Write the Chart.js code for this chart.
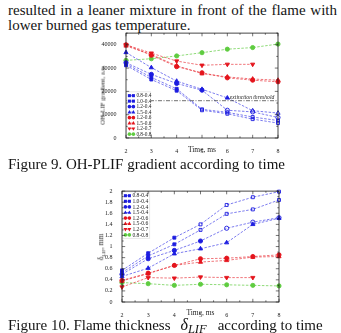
<!DOCTYPE html>
<html><head><meta charset="utf-8">
<script src="https://cdn.jsdelivr.net/npm/chart.js@4.4.0/dist/chart.umd.min.js"></script>
<style>
html,body{margin:0;padding:0;background:#fff;}
body{width:341px;height:333px;overflow:hidden;position:relative;font-family:"Liberation Serif","Times New Roman",serif;color:#141414;}
.t{position:absolute;left:8px;font-size:15px;line-height:17px;white-space:nowrap;}
.l1{width:329px;text-align:justify;text-align-last:justify;white-space:normal;}
canvas{position:absolute;}
#c1{left:90px;top:28px;}
#c2{left:88px;top:186px;}
.yt{position:absolute;white-space:nowrap;line-height:1;transform:translate(-50%,-50%) rotate(-90deg);color:#222;}
.yt sub{font-size:5px;vertical-align:baseline;position:relative;top:1.5px;}
.dl{margin:0 11px 0 10px;font-style:italic;font-size:16px;}
.dl sub{font-size:12.5px;vertical-align:baseline;position:relative;top:3px;}
</style></head>
<body>
<div class="t l1" style="top:1.5px">resulted in a leaner mixture in front of the flame with</div>
<div class="t" style="top:16.5px">lower burned gas temperature.</div>
<canvas id="c1" width="195" height="130"></canvas>
<div class="yt" style="left:103px;top:95px;font-size:6.8px">OH-LIF gradient, a.u.</div>
<div class="t" style="top:156px">Figure 9. OH-PLIF gradient according to time</div>
<canvas id="c2" width="197" height="134"></canvas>
<div class="yt" style="left:101px;top:247px;font-size:7.5px">δ<sub>LIF</sub>, mm</div>
<div class="t" style="top:316px">Figure 10. Flame thickness<span class="dl">δ<sub>LIF</sub></span>according to time</div>
<script>
// ---------- data ----------
const times = [2, 3, 4, 5, 6, 7, 8];
const seriesLabels = ['0.8-0.4', '1.0-0.4', '1.2-0.4', '1.5-0.4', '1.2-0.6', '1.5-0.6', '1.2-0.7', '0.8-0.8'];

// Figure 9: OH-LIF gradient, a.u.
const grad_08_04 = [31200, 25100, 20300, 11900, 10400, 8100, 6400];
const grad_10_04 = [31800, 26000, 21100, 12300, 11000, 9000, 7500];
const grad_12_04 = [32300, 27300, 23400, 20500, 11900, 11200, 8800];
const grad_15_04 = [36700, 30200, 24400, 20900, 17200, 11700, 10700];
const grad_12_06 = [40000, 35500, 30600, 28000, 25800, 24800, 24100];
const grad_15_06 = [39500, 35800, 31000, 27600, 26200, 25300, 24800];
const grad_12_07 = [40000, 36400, 33000, 31200, 31600, 31600, null];
const grad_08_08 = [33300, 34000, 35200, 36600, 38100, 38800, 40300];
const extinctionThreshold = 16000;
const extinctionLabel = 'extinction threshold';
const gradTicks = [0, 10000, 20000, 30000, 40000];

// Figure 10: flame thickness delta_LIF, mm
const thick_08_04 = [0.57, 0.88, 1.16, 1.40, 1.75, 1.89, 1.99];
const thick_10_04 = [0.53, 0.83, 1.04, 1.30, 1.59, 1.67, 1.84];
const thick_12_04 = [0.50, 0.78, 0.93, 1.10, 1.33, 1.44, 1.52];
const thick_15_04 = [0.46, 0.61, 0.87, 0.96, 1.07, 1.40, 1.51];
const thick_12_06 = [0.39, 0.52, 0.66, 0.78, 0.79, 0.82, 0.85];
const thick_15_06 = [0.38, 0.51, 0.66, 0.72, 0.75, 0.81, 0.82];
const thick_12_07 = [0.27, 0.44, 0.43, 0.45, 0.44, 0.44, null];
const thick_08_08 = [0.35, 0.33, 0.30, 0.32, 0.31, 0.30, 0.29];
const thickTicks = [0, 0.2, 0.4, 0.6, 0.8, 1, 1.2, 1.4, 1.6, 1.8, 2];

const timeTicks = [2, 3, 4, 5, 6, 7, 8];

// ---------- styles ----------
const BLUE = '#1c1ce0', RED = '#e4141c', GREEN = '#5fcc40';
const markerColor = [BLUE, BLUE, BLUE, BLUE, RED, RED, RED, GREEN];
const lineColor = ['rgba(50,50,230,0.8)','rgba(50,50,230,0.8)','rgba(50,50,230,0.8)','rgba(50,50,230,0.8)',
  'rgba(232,40,48,0.8)','rgba(232,40,48,0.8)','rgba(232,40,48,0.8)','rgba(100,205,70,0.9)'];
const markerStyle = ['rect', 'rect', 'circle', 'triangle', 'circle', 'triangle', 'triangle', 'circle'];
const markerRot = [0, 0, 0, 0, 0, 0, 180, 0];
const hollow1 = [3, 3, 4, 5, 99, 99, 99, 99];
const hollow2 = [3, 3, 4, 99, 99, 99, 99, 99];

function buildSets(series, hollowFrom) {
  return series.map((vals, i) => ({
    label: seriesLabels[i],
    data: times.map((t, k) => ({x: t, y: vals[k]})),
    borderColor: lineColor[i],
    borderWidth: 0.8,
    borderDash: [2.5, 1.5],
    pointStyle: markerStyle[i],
    pointRotation: markerRot[i],
    pointRadius: markerStyle[i] === 'triangle' ? 2.4 : 2.1,
    pointBorderColor: markerColor[i],
    pointBorderWidth: 0.9,
    pointBackgroundColor: times.map((t, k) => k >= hollowFrom[i] ? 'rgba(255,255,255,0)' : markerColor[i]),
    clip: false,
    tension: 0,
    spanGaps: false
  }));
}

function drawMarker(ctx, style, x, y, r, rot, color) {
  ctx.save();
  ctx.translate(x, y);
  ctx.rotate(rot * Math.PI / 180);
  ctx.fillStyle = color;
  ctx.beginPath();
  if (style === 'rect') { ctx.rect(-r * 0.85, -r * 0.85, r * 1.7, r * 1.7); }
  else if (style === 'triangle') { ctx.moveTo(0, -r); ctx.lineTo(r * 0.9, r * 0.6); ctx.lineTo(-r * 0.9, r * 0.6); ctx.closePath(); }
  else { ctx.arc(0, 0, r, 0, Math.PI * 2); }
  ctx.fill();
  ctx.restore();
}

const framePlugin = {
  id: 'frame',
  afterDatasetsDraw(chart) {
    const o = chart.options.plugins.frame;
    const ctx = chart.ctx, a = chart.chartArea, xs = chart.scales.x, ys = chart.scales.y;
    ctx.save();
    if (o.note) {
      ctx.fillStyle = '#222';
      ctx.font = 'italic 5.6px "Liberation Serif", serif';
      ctx.textBaseline = 'alphabetic';
      ctx.fillText(o.note.text, xs.getPixelForValue(o.note.x), ys.getPixelForValue(o.note.y) - 1.6);
    }
    const sets = chart.data.datasets.filter(d => !d.noLegend);
    const lg = o.legend, n = sets.length;
    const h = n * lg.row + 1.5;
    const top = lg.anchor === 'bottom' ? a.bottom - lg.pad - h : a.top + lg.pad;
    const left = a.left + 0.8;
    ctx.fillStyle = '#fff';
    ctx.fillRect(left, top, lg.w, h);
    ctx.strokeStyle = 'rgba(120,120,120,0.35)';
    ctx.lineWidth = 0.5;
    ctx.strokeRect(left, top, lg.w, h);
    ctx.font = lg.font + 'px "Liberation Serif", serif';
    ctx.textBaseline = 'middle';
    sets.forEach((d, i) => {
      const cy = top + 1 + lg.row * (i + 0.5);
      ctx.strokeStyle = d.borderColor; ctx.lineWidth = 0.8;
      ctx.beginPath(); ctx.moveTo(left + 2.5, cy); ctx.lineTo(left + 6.8, cy); ctx.stroke();
      const r = d.pointStyle === 'triangle' ? 2.1 : 1.8;
      drawMarker(ctx, d.pointStyle, left + 2.6, cy, r, d.pointRotation, d.pointBorderColor);
      drawMarker(ctx, d.pointStyle, left + 6.6, cy, r, d.pointRotation, d.pointBorderColor);
      ctx.fillStyle = '#222';
      ctx.fillText(d.label, left + 9.6, cy + 0.3);
    });
    ctx.strokeStyle = '#1a1a1a';
    ctx.lineWidth = 0.8;
    ctx.strokeRect(a.left, a.top, a.right - a.left, a.bottom - a.top);
    ctx.lineWidth = 0.6;
    const ln = (x1, y1, x2, y2) => { ctx.beginPath(); ctx.moveTo(x1, y1); ctx.lineTo(x2, y2); ctx.stroke(); };
    const isMaj = (v, s) => Math.abs(v / s - Math.round(v / s)) < 1e-6;
    for (let k = 0; xs.min + k * o.xMinor <= xs.max + 1e-9; k++) {
      const v = xs.min + k * o.xMinor, px = xs.getPixelForValue(v), L = isMaj(v, o.xMajor) ? 3.2 : 1.7;
      ln(px, a.bottom, px, a.bottom - L); ln(px, a.top, px, a.top + L);
    }
    for (let k = 0; ys.min + k * o.yMinor <= ys.max + 1e-9; k++) {
      const v = ys.min + k * o.yMinor, py = ys.getPixelForValue(v), L = isMaj(v, o.yMajor) ? 3.2 : 1.7;
      ln(a.left, py, a.left + L, py); ln(a.right, py, a.right - L, py);
    }
    ctx.restore();
  }
};

const tickFont = {family: '"Liberation Serif", serif', size: 6};
const titleFont = {family: '"Liberation Serif", serif', size: 7.5};

function xScale(height, titlePad) {
  return {
    type: 'linear', min: 2, max: 8,
    afterBuildTicks: s => { s.ticks = timeTicks.map(v => ({value: v})); },
    afterFit: s => { s.height = height; },
    grid: {display: false}, border: {display: false},
    ticks: {font: tickFont, color: '#222', padding: 2, maxRotation: 0, autoSkip: false, callback: v => String(v)},
    title: {display: true, text: 'Time, ms', font: titleFont, color: '#222', padding: {top: 0, bottom: titlePad}}
  };
}

function yScale(min, max, tickVals, width, fmt) {
  return {
    type: 'linear', min: min, max: max,
    afterBuildTicks: s => { s.ticks = tickVals.map(v => ({value: v})); },
    afterFit: s => { s.width = width; },
    grid: {display: false}, border: {display: false},
    ticks: {font: tickFont, color: '#222', padding: 1.5, callback: fmt},
    title: {display: false}
  };
}

// ---------- Figure 9 ----------
const sets1 = buildSets([grad_08_04, grad_10_04, grad_12_04, grad_15_04, grad_12_06, grad_15_06, grad_12_07, grad_08_08], hollow1);
sets1.unshift({
  label: extinctionLabel, noLegend: true,
  data: [{x: 2, y: extinctionThreshold}, {x: 8, y: extinctionThreshold}],
  borderColor: '#333', borderWidth: 0.7, borderDash: [4, 1.5, 1, 1.5], pointRadius: 0, clip: false
});
new Chart(document.getElementById('c1'), {
  type: 'line',
  data: {datasets: sets1},
  options: {
    responsive: false, animation: false, events: [],
    layout: {padding: {top: 5, right: 7, left: 0, bottom: 0}},
    plugins: {
      legend: {display: false}, tooltip: {enabled: false},
      frame: {xMajor: 1, xMinor: 0.5, yMajor: 10000, yMinor: 5000,
        note: {text: extinctionLabel, x: 6.1, y: extinctionThreshold},
        legend: {anchor: 'bottom', pad: 0.6, row: 5.5, w: 24, font: 5.3}}
    },
    scales: {
      x: xScale(20, 3),
      y: yScale(0, 45000, gradTicks, 36, v => String(v))
    }
  },
  plugins: [framePlugin]
});

// ---------- Figure 10 ----------
const sets2 = buildSets([thick_08_04, thick_10_04, thick_12_04, thick_15_04, thick_12_06, thick_15_06, thick_12_07, thick_08_08], hollow2);
new Chart(document.getElementById('c2'), {
  type: 'line',
  data: {datasets: sets2},
  options: {
    responsive: false, animation: false, events: [],
    layout: {padding: {top: 5, right: 6, left: 0, bottom: 0}},
    plugins: {
      legend: {display: false}, tooltip: {enabled: false},
      frame: {xMajor: 1, xMinor: 0.5, yMajor: 0.2, yMinor: 0.1,
        legend: {anchor: 'top', pad: 0.8, row: 5.6, w: 27, font: 5.6}}
    },
    scales: {
      x: xScale(18, 2.5),
      y: yScale(0, 2, thickTicks, 34, v => String(+v.toFixed(1)))
    }
  },
  plugins: [framePlugin]
});
</script>
</body></html>
